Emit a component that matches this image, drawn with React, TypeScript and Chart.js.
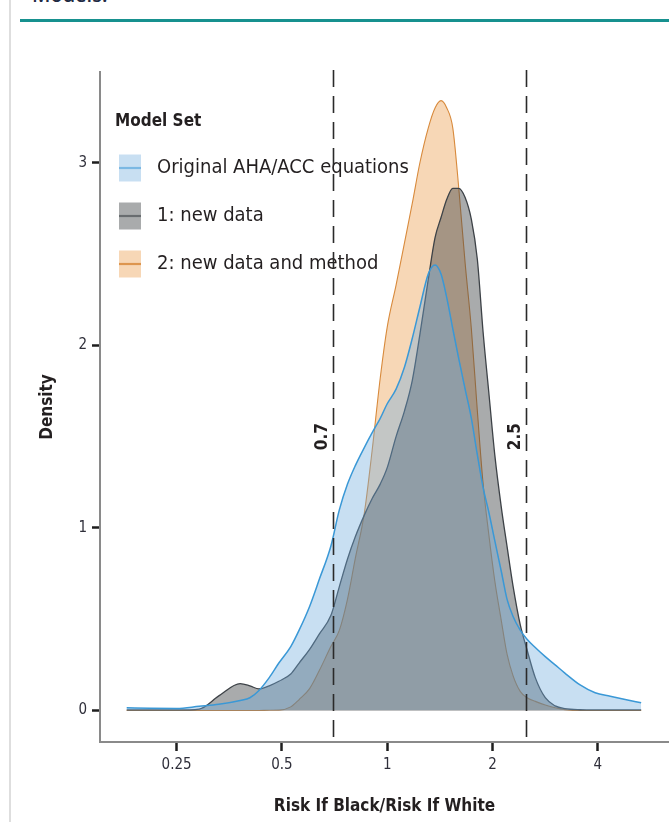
import React, { useEffect, useRef } from "react";
import { Chart, registerables } from "chart.js";

Chart.register(...registerables);

// ---------- data ----------
const ratios = [
  0.18, 0.21, 0.25, 0.29, 0.33, 0.38, 0.405, 0.43, 0.46, 0.49,
  0.53, 0.56, 0.6, 0.64, 0.69, 0.73, 0.77, 0.81, 0.86, 0.905,
  0.955, 1.0, 1.06, 1.12, 1.18, 1.24, 1.31, 1.37, 1.425, 1.48,
  1.54, 1.6, 1.67, 1.74, 1.81, 1.88, 1.95, 2.03, 2.12, 2.2,
  2.29, 2.4, 2.51, 2.65, 2.83, 3.02, 3.22, 3.56, 3.93, 4.34,
  4.79, 5.32,
];

const originalDensity = [
  0.015, 0.012, 0.011, 0.023, 0.034, 0.055, 0.07, 0.11, 0.18, 0.26,
  0.35, 0.44, 0.57, 0.72, 0.9, 1.1, 1.24, 1.34, 1.44, 1.52,
  1.6, 1.68, 1.76, 1.88, 2.04, 2.21, 2.39, 2.44, 2.39, 2.26,
  2.09, 1.93, 1.76, 1.6, 1.4, 1.22, 1.09, 0.93, 0.76, 0.61,
  0.515, 0.44, 0.39, 0.345, 0.295, 0.25, 0.205, 0.14, 0.097, 0.078,
  0.06, 0.042,
];

const newDataDensity = [
  0.003, 0.003, 0.003, 0.008, 0.08, 0.147, 0.135, 0.118, 0.135, 0.16,
  0.2, 0.26, 0.335, 0.42, 0.52, 0.68, 0.83, 0.95, 1.07, 1.16,
  1.24, 1.33, 1.5, 1.64, 1.81, 2.06, 2.36, 2.59, 2.7, 2.8,
  2.86, 2.86, 2.81, 2.69, 2.47, 2.07, 1.75, 1.4, 1.11, 0.9,
  0.68, 0.47, 0.333, 0.18, 0.07, 0.025, 0.01, 0.004, 0.003, 0.003,
  0.003, 0.003,
];

const newDataMethodDensity = [
  0, 0, 0, 0, 0, 0, 0, 0, 0.001, 0.002,
  0.02, 0.06, 0.12, 0.22, 0.35, 0.44, 0.61, 0.83, 1.08, 1.42,
  1.82, 2.1, 2.33, 2.56, 2.78, 3.0, 3.19, 3.3, 3.34, 3.3,
  3.19, 2.87, 2.45, 2.09, 1.64, 1.24, 0.97, 0.71, 0.49, 0.31,
  0.19, 0.105, 0.07, 0.05, 0.03, 0.015, 0.005, 0, 0, 0,
  0, 0,
];

const seriesNames = ["Original AHA/ACC equations", "1: new data", "2: new data and method"];
const legendTitle = "Model Set";
const xTickValues = [0.25, 0.5, 1, 2, 4];
const yTickValues = [0, 1, 2, 3];
const refLineValues = [0.7, 2.5];
const refLineLabels = ["0.7", "2.5"];
const xTitle = "Risk If Black/Risk If White";
const yTitle = "Density";

// ---------- style ----------
const FONT = "'Liberation Sans Narrow', 'DejaVu Sans Condensed', 'Roboto Condensed', 'Open Sans', sans-serif";
const TEXT = "#231f20";
const lineColors = ["#3a98d6", "#3d4247", "#d88a3c"];
const fillColors = ["rgba(110,170,220,0.38)", "rgba(65,68,72,0.45)", "rgba(235,160,80,0.42)"];
const swatchLines = ["rgba(58,152,214,0.55)", "rgba(61,66,71,0.6)", "rgba(216,138,60,0.85)"];
const lineWidths = [1.5, 1.3, 1.1];

const overlayPlugin = {
  id: "overlay",
  afterDatasetsDraw(chart: any) {
    const c = chart.ctx as CanvasRenderingContext2D;
    const area = chart.chartArea;
    const xs = chart.scales.x;
    const ys = chart.scales.y;
    c.save();
    // legend
    const lx = area.left + 15;
    c.textBaseline = "middle";
    c.textAlign = "left";
    c.fillStyle = TEXT;
    c.font = `bold 17px ${FONT}`;
    c.fillText(legendTitle, lx, area.top + 50);
    seriesNames.forEach((name, i) => {
      const cy = area.top + 96 + i * 48;
      c.fillStyle = fillColors[i];
      c.fillRect(lx + 4, cy - 13.5, 22, 27);
      c.strokeStyle = swatchLines[i];
      c.lineWidth = 2.2;
      c.beginPath();
      c.moveTo(lx + 4, cy);
      c.lineTo(lx + 26, cy);
      c.stroke();
      c.fillStyle = TEXT;
      c.font = `20px ${FONT}`;
      c.fillText(name, lx + 42, cy);
    });
    // reference lines
    refLineValues.forEach((v, i) => {
      const px = Math.round(xs.getPixelForValue(v)) + 0.5;
      c.setLineDash([17, 9]);
      c.lineWidth = 1.6;
      c.strokeStyle = "#2a2a2a";
      c.beginPath();
      c.moveTo(px, area.top - 2);
      c.lineTo(px, area.bottom);
      c.stroke();
      c.setLineDash([]);
      c.save();
      c.translate(px - 11, ys.getPixelForValue(1.5));
      c.rotate(-Math.PI / 2);
      c.textAlign = "center";
      c.textBaseline = "middle";
      c.fillStyle = TEXT;
      c.font = `bold 17px ${FONT}`;
      c.fillText(refLineLabels[i], 0, 0);
      c.restore();
    });
    c.restore();
  },
};

export default function App() {
  const ref = useRef<HTMLCanvasElement>(null);
  useEffect(() => {
    if (!ref.current) return;
    Chart.defaults.font.family = FONT;
    const data = [originalDensity, newDataDensity, newDataMethodDensity];
    const chart = new Chart(ref.current, {
      type: "line",
      data: {
        datasets: data.map((d, i) => ({
          label: seriesNames[i],
          data: ratios.map((r, j) => ({ x: r, y: d[j] })),
          borderColor: lineColors[i],
          backgroundColor: fillColors[i],
          borderWidth: lineWidths[i],
          fill: "origin",
          pointRadius: 0,
          cubicInterpolationMode: "monotone",
        })),
      },
      options: {
        responsive: false,
        animation: false,
        devicePixelRatio: 1,
        layout: { padding: { top: 72, left: 0, right: 0, bottom: 0 } },
        plugins: { legend: { display: false }, tooltip: { enabled: false } },
        scales: {
          x: {
            type: "logarithmic",
            min: 0.151,
            max: 6.39,
            afterFit: (s: any) => { s.height = 80; },
            afterBuildTicks: (s: any) => { s.ticks = xTickValues.map((v) => ({ value: v })); },
            grid: { drawOnChartArea: false, drawTicks: true, tickLength: 9, tickWidth: 2.5, tickColor: "#1e1e1e" },
            border: { display: true, color: "#8a8a8a", width: 2 },
            ticks: {
              autoSkip: false,
              maxRotation: 0,
              padding: 5,
              color: "#2f2f3a",
              font: { size: 15, family: FONT },
              callback: (v: any) => String(v),
            },
            title: {
              display: true,
              text: xTitle,
              color: TEXT,
              font: { size: 17, weight: "bold", family: FONT },
              padding: { top: 0, bottom: 5 },
            },
          },
          y: {
            type: "linear",
            min: -0.1725,
            max: 3.497,
            afterFit: (s: any) => { s.width = 100; },
            afterBuildTicks: (s: any) => { s.ticks = yTickValues.map((v) => ({ value: v })); },
            grid: { drawOnChartArea: false, drawTicks: true, tickLength: 8, tickWidth: 2.5, tickColor: "#1e1e1e" },
            border: { display: true, color: "#8a8a8a", width: 2 },
            ticks: {
              padding: 5,
              color: "#2f2f3a",
              font: { size: 15, family: FONT },
              callback: (v: any) => String(v),
            },
            title: {
              display: true,
              text: yTitle,
              color: TEXT,
              font: { size: 17, weight: "bold", family: FONT },
              padding: { top: 37, bottom: 0 },
            },
          },
        },
      },
      plugins: [overlayPlugin],
    } as any);
    return () => chart.destroy();
  }, []);

  return (
    <div style={{ position: "absolute", left: 0, top: 0, width: 669, height: 822, overflow: "hidden", background: "#fff" }}>
      <div style={{ position: "absolute", left: 9, top: 0, width: 2, height: 822, background: "#dedede" }} />
      <div style={{ position: "absolute", left: 20, top: 19, right: 0, height: 3, background: "#17918f" }} />
      <div style={{ position: "absolute", left: 32, top: -19, lineHeight: "27px", fontFamily: "'Open Sans', sans-serif", fontSize: 20, fontWeight: 600, color: "#1f2a44", whiteSpace: "nowrap" }}>
        Models.
      </div>
      <canvas ref={ref} width={669} height={822} style={{ position: "absolute", left: 0, top: 0 }} />
    </div>
  );
}
